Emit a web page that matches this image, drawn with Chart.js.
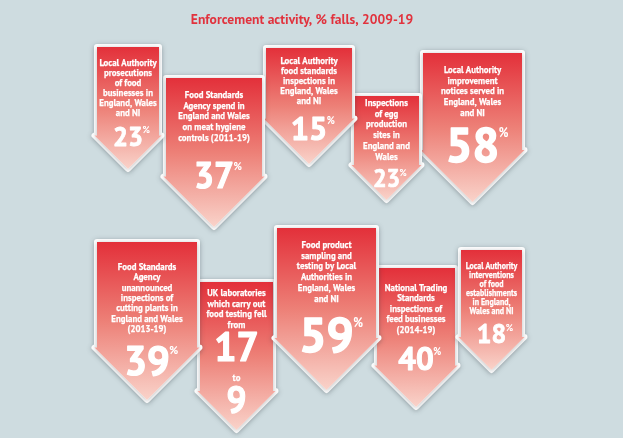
<!DOCTYPE html>
<html>
<head>
<meta charset="utf-8">
<script src="https://cdn.jsdelivr.net/npm/chart.js@4.4.1/dist/chart.umd.min.js"></script>
<style>
  html, body { margin: 0; padding: 0; background: #cedce0; }
  #wrap { width: 623px; height: 438px; position: relative; }
</style>
</head>
<body>
<div id="wrap"><canvas id="chart"></canvas></div>
<script>
// ---- data ----
const chartTitle = "Enforcement activity, % falls, 2009-19";

const descriptions = [
  ["Local Authority", "prosecutions", "of food", "businesses in", "England, Wales", "and NI"],
  ["Food Standards", "Agency spend in", "England and Wales", "on meat hygiene", "controls (2011-19)"],
  ["Local Authority", "food standards", "inspections in", "England, Wales", "and NI"],
  ["Inspections", "of egg", "production", "sites in", "England and", "Wales"],
  ["Local Authority", "improvement", "notices served in", "England, Wales", "and NI"],
  ["Food Standards", "Agency", "unannounced", "inspections of", "cutting plants in", "England and Wales", "(2013-19)"],
  ["UK laboratories", "which carry out", "food testing fell", "from"],
  ["Food product", "sampling and", "testing by Local", "Authorities in", "England, Wales", "and NI"],
  ["National Trading", "Standards", "inspections of", "feed businesses", "(2014-19)"],
  ["Local Authority", "interventions", "of food", "establishments", "in England,", "Wales and NI"]
];

// % fall for each item (null = shown as a count instead)
const percentFalls = [23, 37, 15, 23, 58, 39, null, 59, 40, 18];

// UK labs doing food testing
const labsFrom = 17;
const labsTo = 9;

// ---- layout (page units, not data) ----
// left, right, top, tip of each arrow
const arrowBox = [
  [97, 159, 47, 169],
  [166, 262, 78, 227],
  [266, 352, 48, 164],
  [354, 419, 96, 200],
  [423, 522, 53, 202],
  [97, 197, 242, 400],
  [200, 273, 282, 430],
  [277, 376, 228, 390],
  [377, 455, 268, 407],
  [461, 522, 250, 370]
];
const drawOrder = [4, 3, 2, 1, 0, 6, 8, 9, 5, 7];
// y of first text line, line gap, text size, y of number centre, number size
const textLayout = [
  [63, 10, 9.8, 136, 27],
  [95, 10.7, 9.8, 175, 36],
  [61, 10, 9.8, 128, 33],
  [103, 10.8, 9.8, 178, 24.5],
  [70, 10.7, 9.8, 145, 48],
  [267, 10.4, 9.8, 360, 41],
  [293, 10.7, 9.8, 346.5, 40],
  [245, 10.8, 9.8, 335, 49],
  [288, 10.5, 9.8, 359, 32],
  [266, 9, 8.8, 334, 26.5]
];
const FONT = '"PT Sans", "Roboto", sans-serif';
const TEXT_SQUEEZE = 0.9;
const NUM_SQUEEZE = 0.98;

function arrowPath(ctx, l, r, t, tip) {
  const ex = 2.5;
  const cx = (l + r) / 2;
  const half = (r - l) / 2 + ex;
  const flare = tip - half;
  ctx.beginPath();
  ctx.moveTo(l, t);
  ctx.lineTo(r, t);
  ctx.lineTo(r, flare);
  ctx.lineTo(r + ex, flare);
  ctx.lineTo(cx, tip);
  ctx.lineTo(l - ex, flare);
  ctx.lineTo(l, flare);
  ctx.closePath();
}

function squeezed(ctx, txt, x, y, sx, bold) {
  ctx.save();
  ctx.translate(x, y);
  ctx.scale(sx, 1);
  ctx.fillText(txt, 0, 0);
  if (bold) {
    ctx.lineWidth = bold;
    ctx.lineJoin = "round";
    ctx.strokeStyle = ctx.fillStyle;
    ctx.strokeText(txt, 0, 0);
  }
  ctx.restore();
}

const arrowPlugin = {
  id: "arrows",
  afterDatasetsDraw(chart) {
    const ctx = chart.ctx;
    const xs = chart.scales.x, ys = chart.scales.y;

    ctx.save();
    ctx.fillStyle = "#e1323d";
    ctx.font = "bold 14px " + FONT;
    ctx.textAlign = "center";
    ctx.textBaseline = "middle";
    squeezed(ctx, chartTitle, xs.getPixelForValue(302), ys.getPixelForValue(20), 0.97);
    ctx.restore();

    drawOrder.forEach(i => {
      const b = arrowBox[i];
      const l = xs.getPixelForValue(b[0]), r = xs.getPixelForValue(b[1]);
      const t = ys.getPixelForValue(b[2]), tip = ys.getPixelForValue(b[3]);
      const cx = (l + r) / 2;

      ctx.save();
      ctx.lineJoin = "round";
      arrowPath(ctx, l, r, t, tip);
      ctx.shadowColor = "rgba(60,70,75,0.35)";
      ctx.shadowBlur = 5;
      ctx.shadowOffsetY = 1;
      ctx.strokeStyle = "#ffffff";
      ctx.lineWidth = 6;
      ctx.stroke();
      ctx.fillStyle = "#ffffff";
      ctx.fill();
      ctx.shadowColor = "transparent";
      const g = ctx.createLinearGradient(0, t, 0, tip);
      g.addColorStop(0, "#e3303a");
      g.addColorStop(0.5, "#ed8077");
      g.addColorStop(1, "#f9d3ca");
      ctx.fillStyle = g;
      ctx.fill();

      // description
      const tl = textLayout[i];
      ctx.fillStyle = "#ffffff";
      ctx.textAlign = "center";
      ctx.textBaseline = "middle";
      ctx.font = "bold " + tl[2] + "px " + FONT;
      descriptions[i].forEach((line, k) => {
        squeezed(ctx, line, cx, ys.getPixelForValue(tl[0] + k * tl[1]), TEXT_SQUEEZE, 0.25);
      });

      // big number
      const ny = ys.getPixelForValue(tl[3]);
      const ns = tl[4];
      const heavy = ns * 0.03;
      ctx.textBaseline = "alphabetic";
      if (percentFalls[i] !== null) {
        ctx.font = "bold " + ns + "px " + FONT;
        const txt = String(percentFalls[i]);
        squeezed(ctx, txt, cx, ny + ns * 0.355, NUM_SQUEEZE, heavy);
        const w = ctx.measureText(txt).width * NUM_SQUEEZE;
        const ps = 6 + ns * 0.14;
        ctx.font = "bold " + ps + "px " + FONT;
        ctx.textAlign = "left";
        squeezed(ctx, "%", cx + w / 2 - 0.5, ny - ns * 0.355 + ps * 0.71, 0.9);
      } else {
        ctx.font = "bold " + ns + "px " + FONT;
        squeezed(ctx, String(labsFrom), cx, ny + ns * 0.355, NUM_SQUEEZE, heavy);
        ctx.font = "bold 9.8px " + FONT;
        ctx.textBaseline = "middle";
        squeezed(ctx, "to", cx, ys.getPixelForValue(378), TEXT_SQUEEZE, 0.25);
        ctx.textBaseline = "alphabetic";
        const s9 = 36;
        ctx.font = "bold " + s9 + "px " + FONT;
        squeezed(ctx, String(labsTo), cx, ys.getPixelForValue(399.5) + s9 * 0.355, NUM_SQUEEZE, s9 * 0.03);
      }
      ctx.restore();
    });
  }
};

new Chart(document.getElementById("chart"), {
  type: "scatter",
  data: {
    datasets: [{
      label: "% fall",
      data: arrowBox.map((b, i) => ({ x: (b[0] + b[1]) / 2, y: b[3], v: percentFalls[i] })),
      pointRadius: 0
    }]
  },
  options: {
    responsive: true,
    maintainAspectRatio: false,
    animation: false,
    layout: { padding: 0 },
    plugins: { legend: { display: false }, tooltip: { enabled: false } },
    scales: {
      x: { type: "linear", min: 0, max: 623, display: false },
      y: { type: "linear", min: 0, max: 438, reverse: true, display: false }
    }
  },
  plugins: [arrowPlugin]
});
</script>
</body>
</html>
